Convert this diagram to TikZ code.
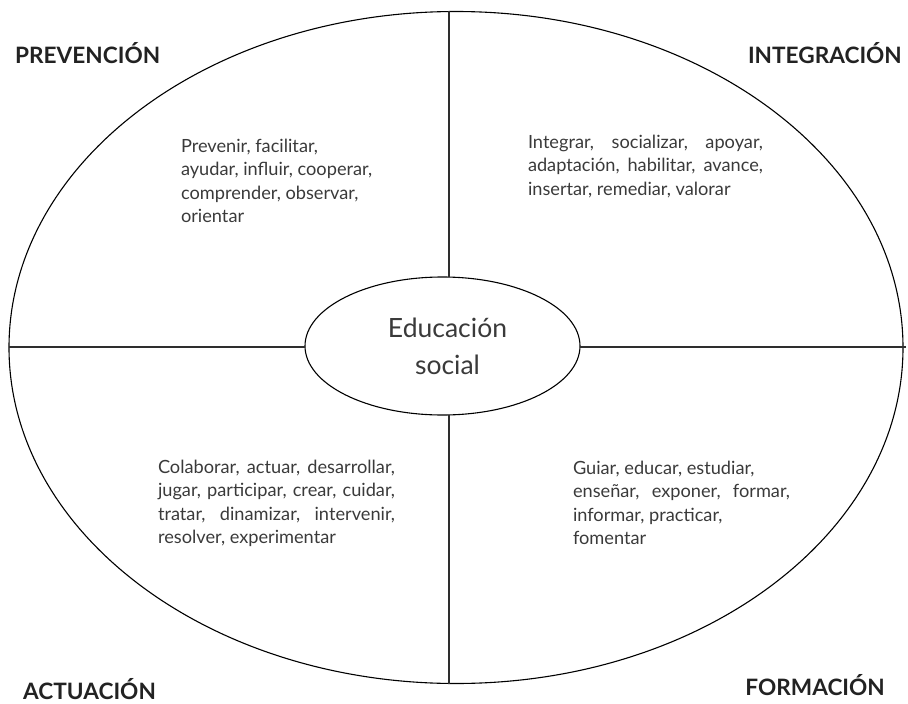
\documentclass[tikz,border=0pt]{standalone}
\usepackage{fontspec}
\setmainfont{Lato}
\usetikzlibrary{shapes.geometric}
\definecolor{txt}{HTML}{3A3A3A}
\definecolor{lbl}{HTML}{222222}
\definecolor{ln}{HTML}{2E2E2E}
\tikzset{
  body/.style={anchor=north west, inner sep=0pt, outer sep=0pt, text=txt, align=left,
    font=\fontsize{18.2}{23.5}\selectfont},
  quad/.style={inner sep=0pt, text=lbl, font=\fontsize{22.6}{26}\selectfont\bfseries},
  cross/.style={draw=ln, line width=1.8pt},
  oval/.style={draw=black, line width=1.1pt, ellipse, inner sep=0pt}
}
\begin{document}
\begin{tikzpicture}[x=1pt,y=-1pt]
\useasboundingbox (0,0) rectangle (908,704);
% outer and inner ellipses
\node[oval, minimum width=894pt, minimum height=672pt] (outer) at (456,347.5) {};
\node[oval, minimum width=275pt, minimum height=138pt] (inner) at (442.5,346) {};
\node[inner sep=0pt, align=center, text=txt, font=\fontsize{26.5}{37}\selectfont]
  (edu) at (447.5,346) {Educación\\social};
% cross lines
\coordinate (ttop) at (449,11);
\coordinate (tbot) at (449,277);
\coordinate (btop) at (449,415);
\coordinate (bbot) at (449,684);
\coordinate (lleft) at (9,347);
\coordinate (lright) at (305,347);
\coordinate (rleft) at (580,347);
\coordinate (rright) at (906,347);
\draw[cross] (ttop) -- (tbot);
\draw[cross] (btop) -- (bbot);
\draw[cross] (lleft) -- (lright);
\draw[cross] (rleft) -- (rright);
% quadrant labels
\node[quad, anchor=base west] (prev) at (15,63) {PREVENCIÓN};
\node[quad, anchor=base east] (integ) at (902,63) {INTEGRACIÓN};
\node[quad, anchor=base west] (actu) at (23,699) {ACTUACIÓN};
\node[quad, anchor=base east] (form) at (885,695) {FORMACIÓN};
% texts
\node[body] (tprev) at (181,139) {Prevenir, facilitar,\\ayudar, influir, cooperar,\\comprender, observar,\\orientar};
\node[body] (tinteg) at (528,135) {\makebox[235pt][s]{Integrar, socializar, apoyar,}\\\makebox[235pt][s]{adaptación, habilitar, avance,}\\insertar, remediar, valorar};
\node[body] (tactu) at (158,460) {\makebox[237pt][s]{Colaborar, actuar, desarrollar,}\\\makebox[237pt][s]{jugar, participar, crear, cuidar,}\\\makebox[237pt][s]{tratar, dinamizar, intervenir,}\\resolver, experimentar};
\node[body] (tform) at (573,461) {Guiar, educar, estudiar,\\\makebox[217pt][s]{enseñar, exponer, formar,}\\informar, practicar,\\fomentar};
\end{tikzpicture}
\end{document}
